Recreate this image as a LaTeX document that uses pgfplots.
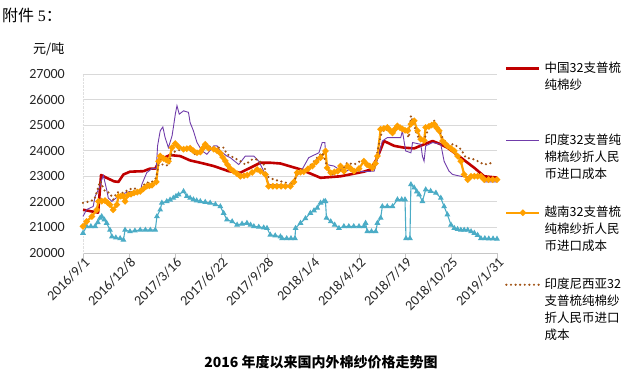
\documentclass[border=0pt]{standalone}
\usepackage{fontspec}
\setmainfont{Carlito}
\newfontfamily\cjk{Noto Sans CJK SC}
\newfontfamily\serifnum{Liberation Serif}
\usepackage{pgfplots}
\pgfplotsset{compat=1.18}
\definecolor{cnred}{RGB}{192,0,0}
\definecolor{inpurple}{RGB}{112,60,170}
\definecolor{vnorange}{RGB}{255,160,0}
\definecolor{idbrown}{RGB}{160,82,20}
\definecolor{pkteal}{RGB}{75,172,198}
\newcommand{\lgd}[1]{\parbox{82pt}{\strut\newline\mbox{}\newline\mbox{}\newline #1\strut}}
\begin{document}
\begin{tikzpicture}[x=1pt,y=1pt]
\useasboundingbox (-83,-119) rectangle (540,253);
\begin{axis}[
  at={(0pt,0pt)}, anchor=south west,
  scale only axis, width=414pt, height=179pt,
  xmin=0, xmax=126, ymin=20000, ymax=27000,
  xtick={0,14,28,42,56,70,84,98,112,126},
  xticklabels={2016/9/1,2016/12/8,2017/3/16,2017/6/22,2017/9/28,2018/1/4,2018/4/12,2018/7/19,2018/10/25,2019/1/31},
  ytick={20000,21000,22000,23000,24000,25000,26000,27000},
  scaled y ticks=false,
  /pgf/number format/assume math mode=true,
  /pgf/number format/1000 sep={},
  tick label style={font=\fontsize{14}{16}\selectfont, text=black!85},
  xticklabel style={rotate=45, anchor=east, inner sep=0pt, yshift=-4pt, xshift=2pt},
  yticklabel style={anchor=east, inner sep=0pt, xshift=-12pt},
  axis lines*=left,
  x axis line style={draw=gray!45, line width=0.8pt},
  y axis line style={draw=gray!25, densely dotted},
  tick align=outside,
  xtick style={draw=gray!45, line width=0.8pt},
  major tick length=6pt,
  ytick style={draw=none},
  ymajorgrids, grid style={draw=gray!30, line width=0.8pt},
  clip=false,
  legend cell align=left,
  legend style={at={(axis description cs:1.019,1.363)}, anchor=north west, draw=none, fill=none,
    inner sep=0pt,
    font=\cjk\fontsize{12.5}{17}\selectfont, row sep=-47pt, column sep=4pt,
    nodes={inner sep=0pt, text depth=}},
  legend image code/.code={\draw[mark repeat=2,mark phase=2,#1] plot coordinates {(0pt,0pt) (16.5pt,0pt) (33pt,0pt)};},
]
% Teal (not in legend)
\addplot[forget plot, color=pkteal, line width=1.1pt, mark=triangle*, mark size=2.3pt, mark options={fill=pkteal, draw=pkteal}] coordinates {
(0,20780)(1.1,21040)(2.4,21040)(3.7,21040)(4.5,21200)(5.2,21370)(5.7,21430)(6.5,21300)(7.2,21170)(8.2,20900)(8.8,20640)(10,20600)(11.3,20570)(12.3,20510)(12.8,20900)(14.3,20840)(15.8,20870)(17.4,20900)(19,20900)(20.5,20900)(22,20900)(22.5,21430)(23.5,21690)(24,21960)(25.5,22020)(26.5,22080)(27.5,22150)(28.3,22220)(29.1,22280)(30.6,22410)(31.6,22220)(32.6,22150)(33.6,22090)(34.6,22050)(35.7,22020)(37.2,21990)(38.7,21960)(40.3,21900)(41.8,21820)(42.8,21560)(43.8,21300)(45.4,21230)(46.9,21100)(48.4,21140)(49.9,21170)(51,21100)(52,21040)(53.5,21020)(55,20990)(56,20970)(57,20710)(58.5,20680)(60.1,20640)(60.6,20570)(62,20570)(63.3,20570)(64.5,20570)(64.7,20970)(66.2,21170)(67.7,21350)(69.2,21560)(70.3,21660)(71.3,21760)(72.3,21960)(73.3,22020)(73.8,22020)(74.1,21370)(75.4,21230)(76.6,21100)(77.9,20970)(79.4,21040)(80.9,21040)(82.4,21040)(84,21040)(85.5,21040)(86,21170)(86.5,20840)(87.8,20840)(89.1,20840)(89.6,21170)(90.6,21370)(91.1,21820)(92.6,21820)(94.2,21820)(95.7,22090)(97,22090)(98,22090)(98.3,20570)(99.5,20570)(99.8,22680)(100.8,22550)(101.6,22400)(102.3,22280)(103.3,22020)(104.3,22480)(105.8,22420)(107.4,22350)(108.9,22150)(109.9,21820)(110.9,21500)(112,21100)(113,20970)(114,20930)(115,20900)(116,20900)(117.1,20900)(118.1,20840)(119.1,20780)(120.1,20700)(121.1,20570)(122.3,20570)(123.5,20560)(124.8,20560)(126,20550)
};
% China
\addplot[color=cnred, line width=2.6pt, mark=none, line join=round] coordinates {
(0,21690)(4.6,21580)(5.5,23050)(7,22950)(9.5,22800)(10.8,22780)(12.3,23070)(14.3,23180)(18.4,23200)(20.4,23300)(22,23300)(23.5,23660)(26.5,23830)(29.6,23790)(32.6,23620)(35.7,23530)(39.8,23400)(44.3,23200)(47.9,23140)(54,23530)(57,23530)(60.1,23500)(66.2,23270)(72.3,22940)(78.4,23000)(85.5,23180)(87.6,23270)(89.6,23730)(91.6,24380)(94.7,24190)(97.7,24120)(100.8,24090)(103.8,24250)(106.4,24380)(108.9,24250)(110.9,24120)(115,23730)(119.1,23330)(122.1,23000)(126,22950)
};
\addlegendentry{\lgd{中国32支普梳\newline 纯棉纱\newline\mbox{}\newline\mbox{}}}
% India
\addplot[color=inpurple, line width=0.9pt, mark=none] coordinates {
(0,21430)(1.1,21700)(3.1,21820)(3.7,22220)(5.2,22610)(5.7,22870)(6.2,23030)(7.2,22480)(7.7,22150)(8.8,22020)(11.3,22280)(14.3,22410)(17.4,22350)(17.9,22680)(19.4,23140)(21,23300)(22.3,23300)(22.7,24190)(23.5,24780)(24.3,24930)(25,24510)(26,24120)(27.1,24580)(27.5,24910)(28.1,25430)(28.6,25760)(29.3,25430)(30.6,25560)(32.1,25500)(32.6,25100)(33.6,24780)(34.7,24320)(36.2,24000)(37.7,23860)(39.8,24190)(40.8,24190)(41.8,23990)(43.8,23790)(44.8,23730)(47.4,23460)(49.4,23790)(52,23790)(53.5,23590)(56,22940)(56.5,22680)(63.1,22650)(64.7,22940)(66.7,23270)(68.7,23730)(71.8,23920)(72.8,24320)(73.6,24320)(74.1,23460)(76.4,23400)(79.4,23140)(81.5,23300)(84.5,23180)(88.6,23200)(90.1,23860)(91.1,24380)(92.6,24510)(96.7,24510)(97.2,24780)(98.2,23990)(99.8,23920)(100.3,24320)(102.8,24250)(103.3,23790)(103.8,23590)(104.3,24190)(106.4,24320)(108.9,24250)(109.9,23590)(111.4,23200)(112.5,23070)(115,23000)(121.1,22960)(122.1,22780)(126,22780)
};
\addlegendentry{\lgd{印度32支普纯\newline 棉梳纱折人民\newline 币进口成本\newline\mbox{}}}
% Vietnam
\addplot[color=vnorange, line width=2.2pt, mark=*, mark size=1.9pt, mark options={fill=vnorange, draw=vnorange}] coordinates {
(0,21040)(1.1,21230)(2.7,21430)(4.2,21690)(4.7,22020)(5.7,22030)(6.7,22050)(7.5,21970)(8.2,21890)(9.2,21690)(10.3,21890)(10.8,22220)(11.5,22220)(12.3,22220)(12.8,22020)(13.8,22280)(14.6,22300)(15.5,22350)(16.5,22380)(17.4,22410)(18.4,22510)(19.4,22610)(20.2,22630)(21,22650)(22.3,22780)(23,23590)(23.5,23790)(24.5,23700)(25.3,23640)(26,23590)(27.1,24120)(28.1,24280)(29.1,24150)(30.6,24060)(31.6,24080)(32.6,24100)(33.6,24000)(34.7,23920)(35.7,23950)(36.5,24100)(37.2,24250)(38.2,24100)(39.8,24060)(40.8,24000)(41.8,23900)(42.5,23750)(43.3,23600)(44,23450)(44.8,23300)(45.8,23200)(46.9,23100)(47.9,23000)(49,23020)(50,23050)(51.5,23150)(53,23270)(54,23200)(55.5,23070)(56.5,22610)(57.8,22610)(59,22610)(60.3,22610)(61.6,22610)(63.1,22610)(64.2,22780)(65.2,23140)(66.2,23160)(67.2,23180)(68.5,23290)(69.8,23400)(71,23560)(72.3,23730)(73.8,23990)(74.3,23330)(75.4,23140)(76.5,23170)(77.5,23200)(78.4,23400)(79.4,23200)(80.5,23400)(81.5,23300)(82.5,23200)(84,23300)(85.5,23590)(86.5,23450)(87.3,23400)(88.1,23330)(89,23500)(89.6,23790)(90.6,24840)(91.6,24870)(92.6,24910)(93.4,24800)(94.2,24700)(95,24850)(95.7,24970)(96.5,24900)(97.2,24850)(98,24800)(98.8,24780)(99.8,25040)(100.8,25170)(101.8,24780)(102.8,24450)(103.8,24400)(104.3,24910)(105.3,24950)(106.1,25000)(106.9,25040)(107.6,24900)(108.4,24780)(109.4,24380)(110.2,24280)(110.9,24190)(112,24090)(113,23990)(114,23790)(115,23590)(116,23070)(117.1,22870)(118.1,23000)(119.1,23000)(120.1,23000)(121.1,23000)(122.1,22870)(123.4,22870)(124.7,22870)(126,22870)
};
\addlegendentry{\lgd{越南32支普梳\newline 纯棉纱折人民\newline 币进口成本\newline\mbox{}}}
% Indonesia
\addplot[color=idbrown, line width=2.4pt, line cap=round, dash pattern=on 0pt off 4.6pt, mark=none] coordinates {
(0,21960)(2.1,22020)(3.5,22100)(5.2,22810)(6.7,22410)(8.2,22350)(9.2,22090)(10.3,22380)(12.3,22350)(13.8,22480)(15.5,22540)(17.4,22410)(18.9,22740)(21,22780)(22.3,22940)(23,23460)(25,23460)(26,23400)(27.1,23920)(28.6,24000)(31.6,24120)(34.2,23850)(35.7,23920)(37.7,24190)(39.8,24120)(42.8,24120)(43.8,23860)(45.9,23730)(47.9,23590)(49.4,23460)(51.5,23660)(53,23660)(55,23460)(56,23000)(58.1,22870)(62.1,22740)(64.2,22700)(65,23140)(67,23180)(69,23400)(71.3,23730)(72.8,23920)(73.8,23590)(74.8,23180)(75.9,23070)(77.5,23180)(79,23270)(80.4,23530)(82.5,23460)(84.5,23600)(86.5,23460)(88.6,23330)(90.6,24580)(91.6,24840)(93.6,24780)(95.7,24970)(97.7,24840)(99.2,24510)(99.8,25370)(100.8,24970)(101.8,24580)(103.3,24320)(104.3,24580)(105.3,24910)(106.9,25170)(108.4,24840)(109.4,24510)(110.9,24250)(113,24250)(115,24060)(116.5,23730)(119.1,23660)(122.1,23460)(124.7,23530)
};
\addlegendentry{\lgd{印度尼西亚32\newline 支普梳纯棉纱\newline 折人民币进口\newline 成本}}
\end{axis}
\node[anchor=west, inner sep=0pt] at (-81,238) {\fontsize{16}{18}\selectfont\cjk 附件 {\serifnum 5}：};
\node[anchor=west, inner sep=0pt] at (-50,204) {\fontsize{13}{15}\selectfont\cjk 元/吨};
\node[inner sep=0pt] at (238,-109) {\fontsize{14}{16}\selectfont\cjk\bfseries 2016 年度以来国内外棉纱价格走势图};
\end{tikzpicture}
\end{document}
